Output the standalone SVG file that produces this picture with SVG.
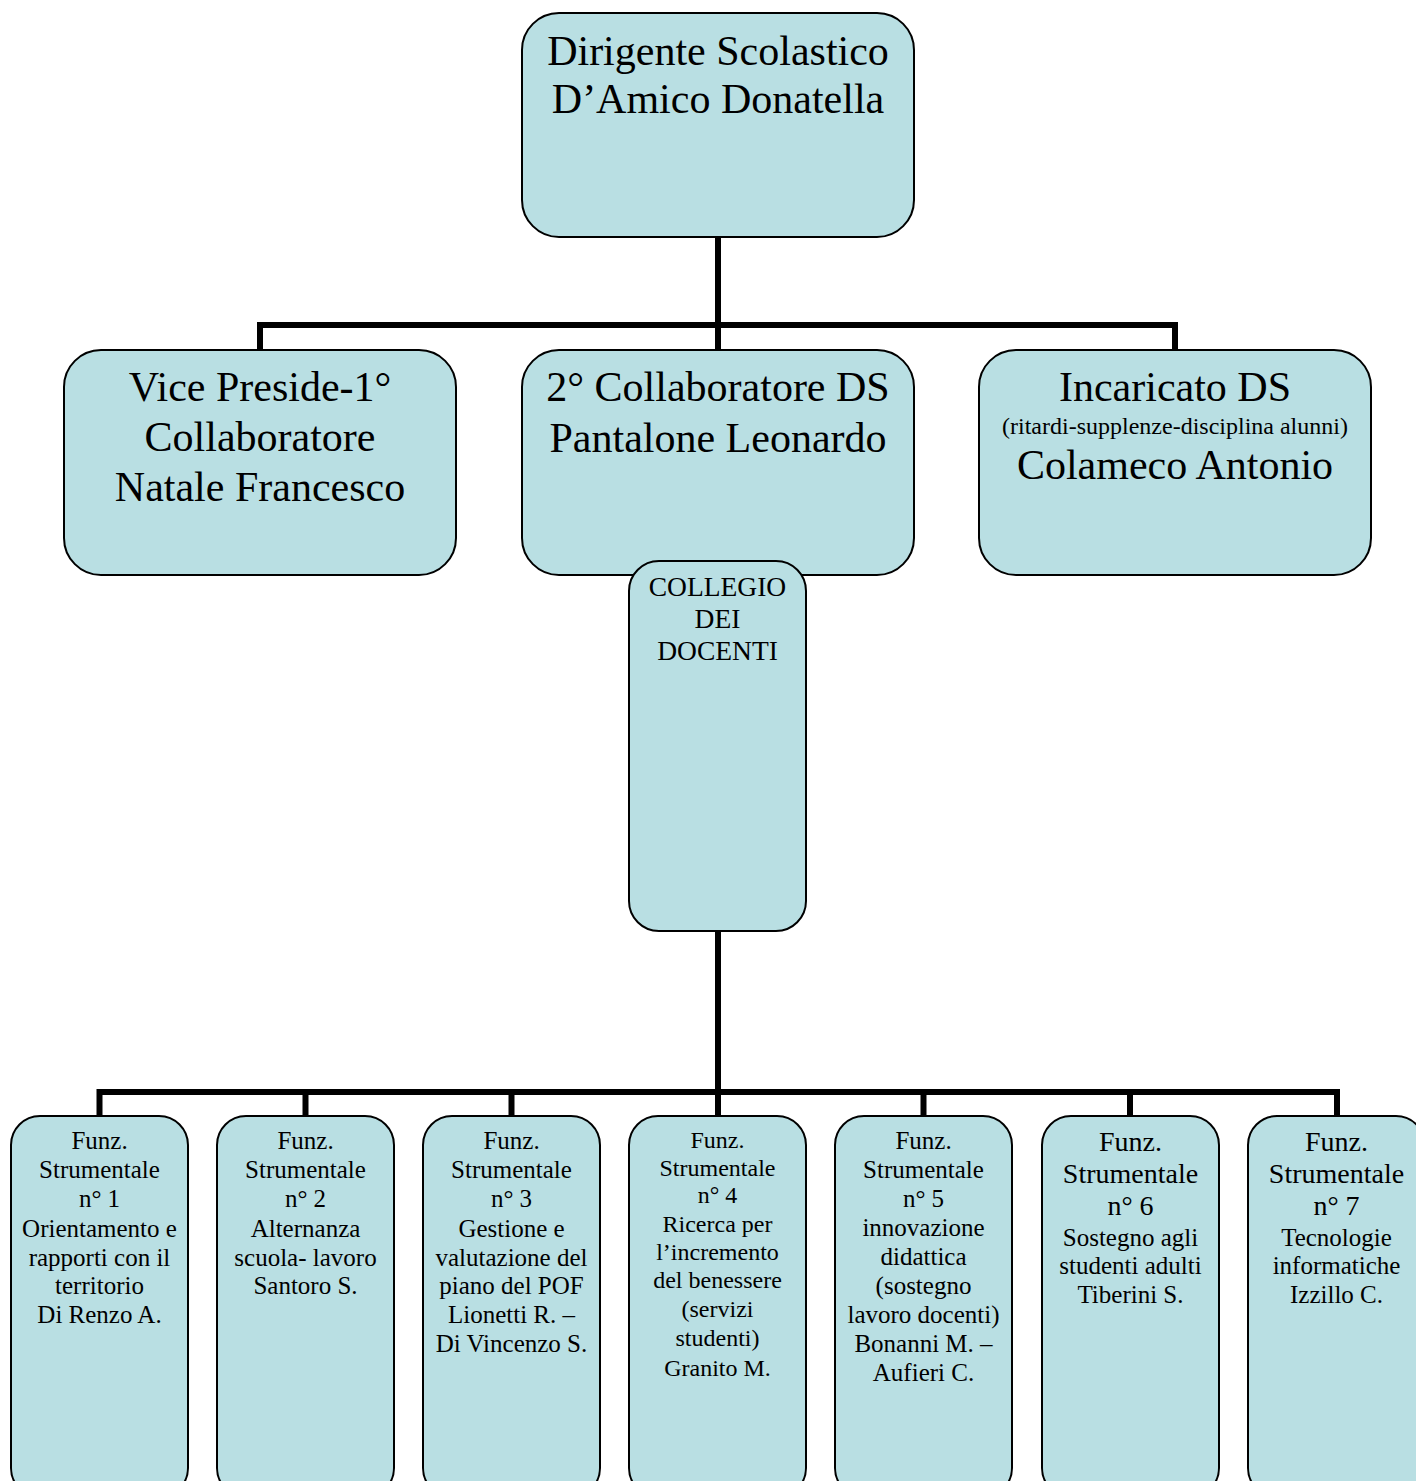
<svg xmlns="http://www.w3.org/2000/svg" width="1416" height="1481" viewBox="0 0 1416 1481">
<style>
.box{fill:#b9dfe3;stroke:#000;stroke-width:2}
.conn{fill:none;stroke:#000;stroke-width:6;stroke-linejoin:miter;stroke-linecap:butt}
text{font-family:"Liberation Serif","Times New Roman",serif;fill:#000;text-anchor:middle}
.big{font-size:42px}
.mid{font-size:24px}
.col{font-size:27.5px}
.fs{font-size:25px}
.fs4{font-size:24px}
.fs6{font-size:28px}
</style>
<rect width="1416" height="1481" fill="#fff"/>
<g id="connectors">
<path class="conn" d="M718,237 V350"/>
<path class="conn" d="M260,350 V325 H1175 V350"/>
<path class="conn" d="M718,931 V1116"/>
<path class="conn" d="M99.5,1116 V1092 H1337 V1116"/>
<path class="conn" d="M305.5,1092 V1116 M511.5,1092 V1116 M923.5,1092 V1116 M1130,1092 V1116"/>
</g>
<g id="dirigente">
<rect class="box" x="522" y="13" width="392" height="224" rx="37"/>
<text class="big" x="718" y="65">Dirigente Scolastico</text>
<text class="big" x="718" y="113">D’Amico Donatella</text>
</g>
<g id="vicepreside">
<rect class="box" x="64" y="350" width="392" height="225" rx="37"/>
<text class="big" x="260" y="401">Vice Preside-1°</text>
<text class="big" x="260" y="451">Collaboratore</text>
<text class="big" x="260" y="501">Natale Francesco</text>
</g>
<g id="collaboratore2">
<rect class="box" x="522" y="350" width="392" height="225" rx="37"/>
<text class="big" x="718" y="401">2° Collaboratore DS</text>
<text class="big" x="718" y="452">Pantalone Leonardo</text>
</g>
<g id="incaricato">
<rect class="box" x="979" y="350" width="392" height="225" rx="37"/>
<text class="big" x="1175" y="401">Incaricato DS</text>
<text class="mid" x="1175" y="434">(ritardi-supplenze-disciplina alunni)</text>
<text class="big" x="1175" y="479">Colameco Antonio</text>
</g>
<g id="collegio">
<rect class="box" x="629" y="561" width="177" height="370" rx="30"/>
<text class="col" x="717.5" y="596">COLLEGIO</text>
<text class="col" x="717.5" y="628">DEI</text>
<text class="col" x="717.5" y="660">DOCENTI</text>
</g>
<g id="fs1">
<rect class="box" x="11" y="1116" width="177" height="381" rx="29"/>
<text class="fs" x="99.5" y="1149">Funz.</text>
<text class="fs" x="99.5" y="1178">Strumentale</text>
<text class="fs" x="99.5" y="1207">n° 1</text>
<text class="fs" x="99.5" y="1237">Orientamento e</text>
<text class="fs" x="99.5" y="1266">rapporti con il</text>
<text class="fs" x="99.5" y="1294">territorio</text>
<text class="fs" x="99.5" y="1323">Di Renzo A.</text>
</g>
<g id="fs2">
<rect class="box" x="217" y="1116" width="177" height="381" rx="29"/>
<text class="fs" x="305.5" y="1149">Funz.</text>
<text class="fs" x="305.5" y="1178">Strumentale</text>
<text class="fs" x="305.5" y="1207">n° 2</text>
<text class="fs" x="305.5" y="1237">Alternanza</text>
<text class="fs" x="305.5" y="1266">scuola- lavoro</text>
<text class="fs" x="305.5" y="1294">Santoro S.</text>
</g>
<g id="fs3">
<rect class="box" x="423" y="1116" width="177" height="381" rx="29"/>
<text class="fs" x="511.5" y="1149">Funz.</text>
<text class="fs" x="511.5" y="1178">Strumentale</text>
<text class="fs" x="511.5" y="1207">n° 3</text>
<text class="fs" x="511.5" y="1237">Gestione e</text>
<text class="fs" x="511.5" y="1266">valutazione del</text>
<text class="fs" x="511.5" y="1294">piano del POF</text>
<text class="fs" x="511.5" y="1323">Lionetti R. –</text>
<text class="fs" x="511.5" y="1352">Di Vincenzo S.</text>
</g>
<g id="fs4">
<rect class="box" x="629" y="1116" width="177" height="381" rx="29"/>
<text class="fs4" x="717.5" y="1148">Funz.</text>
<text class="fs4" x="717.5" y="1176">Strumentale</text>
<text class="fs4" x="717.5" y="1203">n° 4</text>
<text class="fs4" x="717.5" y="1232">Ricerca per</text>
<text class="fs4" x="717.5" y="1260">l’incremento</text>
<text class="fs4" x="717.5" y="1288">del benessere</text>
<text class="fs4" x="717.5" y="1317">(servizi</text>
<text class="fs4" x="717.5" y="1346">studenti)</text>
<text class="fs4" x="717.5" y="1376">Granito M.</text>
</g>
<g id="fs5">
<rect class="box" x="835" y="1116" width="177" height="381" rx="29"/>
<text class="fs" x="923.5" y="1149">Funz.</text>
<text class="fs" x="923.5" y="1178">Strumentale</text>
<text class="fs" x="923.5" y="1207">n° 5</text>
<text class="fs" x="923.5" y="1236">innovazione</text>
<text class="fs" x="923.5" y="1265">didattica</text>
<text class="fs" x="923.5" y="1294">(sostegno</text>
<text class="fs" x="923.5" y="1323">lavoro docenti)</text>
<text class="fs" x="923.5" y="1352">Bonanni M. –</text>
<text class="fs" x="923.5" y="1381">Aufieri C.</text>
</g>
<g id="fs6">
<rect class="box" x="1042" y="1116" width="177" height="381" rx="29"/>
<text class="fs6" x="1130.5" y="1151">Funz.</text>
<text class="fs6" x="1130.5" y="1183">Strumentale</text>
<text class="fs6" x="1130.5" y="1215">n° 6</text>
<text class="fs" x="1130.5" y="1246">Sostegno agli</text>
<text class="fs" x="1130.5" y="1274">studenti adulti</text>
<text class="fs" x="1130.5" y="1303">Tiberini S.</text>
</g>
<g id="fs7">
<rect class="box" x="1248" y="1116" width="177" height="381" rx="29"/>
<text class="fs6" x="1336.5" y="1151">Funz.</text>
<text class="fs6" x="1336.5" y="1183">Strumentale</text>
<text class="fs6" x="1336.5" y="1215">n° 7</text>
<text class="fs" x="1336.5" y="1246">Tecnologie</text>
<text class="fs" x="1336.5" y="1274">informatiche</text>
<text class="fs" x="1336.5" y="1303">Izzillo C.</text>
</g>
</svg>
